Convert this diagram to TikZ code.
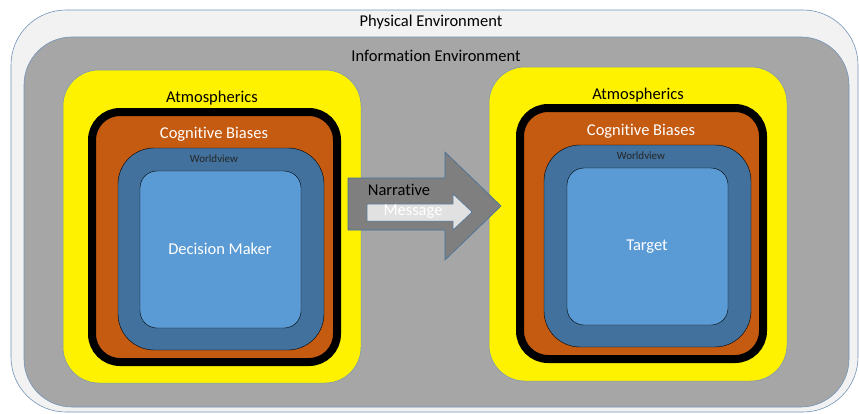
\documentclass[tikz,border=0pt]{standalone}
\usepackage{fontspec}
\setmainfont[Ligatures=NoCommon]{Carlito}
\definecolor{physfill}{HTML}{F2F2F2}
\definecolor{infofill}{HTML}{A6A6A6}
\definecolor{edgeblue}{HTML}{7393BA}
\definecolor{biasorange}{HTML}{C55A11}
\definecolor{viewblue}{HTML}{41719C}
\definecolor{coreblue}{HTML}{5B9BD5}
\definecolor{arrowgray}{HTML}{7F7F7F}
\definecolor{msggray}{HTML}{E1E1E1}
\tikzset{
  env/.style={draw=edgeblue, line width=0.6pt},
  atmos/.style={fill=yellow, draw=edgeblue, line width=0.5pt, rounded corners=36pt},
  bias/.style={fill=biasorange, draw=black, line width=8pt, rounded corners=28pt},
  view/.style={fill=viewblue, rounded corners=36pt},
  core/.style={fill=coreblue, rounded corners=17pt},
  lbl/.style={inner sep=0.75pt, font=\fontsize{16.5}{18}\selectfont},
  smalllbl/.style={inner sep=0.75pt, font=\fontsize{11}{13}\selectfont}
}
\begin{document}
\begin{tikzpicture}[x=1pt,y=1pt,yscale=-1]
\useasboundingbox (0,0) rectangle (859,413);
% environments
\draw [env, fill=physfill, rounded corners=55pt] (11,10) rectangle (858,412);
\draw [env, fill=infofill, rounded corners=48pt] (24,37) rectangle (849,407);
\node [lbl] (phys) at (431,22) {Physical Environment};
\node [lbl] (info) at (436,56) {Information Environment};

% left stack
\draw [atmos] (63,70) rectangle (361,383);
\draw [bias] (92,112) rectangle (337,362);
\draw [view] (118,148) rectangle (324,350);
\draw [core] (140,171) rectangle (301,328);
\node [lbl] (atmosL) at (212,98) {Atmospherics};
\node [lbl, text=white] (biasL) at (214,134) {Cognitive Biases};
\node [smalllbl, text=black!85] (viewL) at (214,159) {Worldview};
\node [lbl, text=white] (maker) at (220,249) {Decision Maker};

% right stack
\draw [atmos] (489,67) rectangle (787,381);
\draw [bias] (520,108) rectangle (763,359);
\draw [view] (544,145) rectangle (751,347);
\draw [core] (567,168) rectangle (728,325);
\node [lbl] (atmosR) at (638,95) {Atmospherics};
\node [lbl, text=white] (biasR) at (641,131) {Cognitive Biases};
\node [smalllbl, text=black!85] (viewR) at (641,156) {Worldview};
\node [lbl, text=white] (target) at (647,247) {Target};

% narrative arrow with message inside
\draw [fill=arrowgray, draw=viewblue, line width=0.6pt] (348,178) -- (445,178) -- (445,152) -- (501,206) -- (445,260) -- (445,230) -- (348,230) -- cycle;
\draw [fill=msggray, draw=viewblue, line width=0.5pt] (367,204) -- (453,204) -- (453,194) -- (472,212) -- (453,230) -- (453,221) -- (367,221) -- cycle;
\node [lbl] (narr) at (399,190) {Narrative};
\node [lbl, text=white] (msg) at (413,212) {Message};
\end{tikzpicture}
\end{document}
